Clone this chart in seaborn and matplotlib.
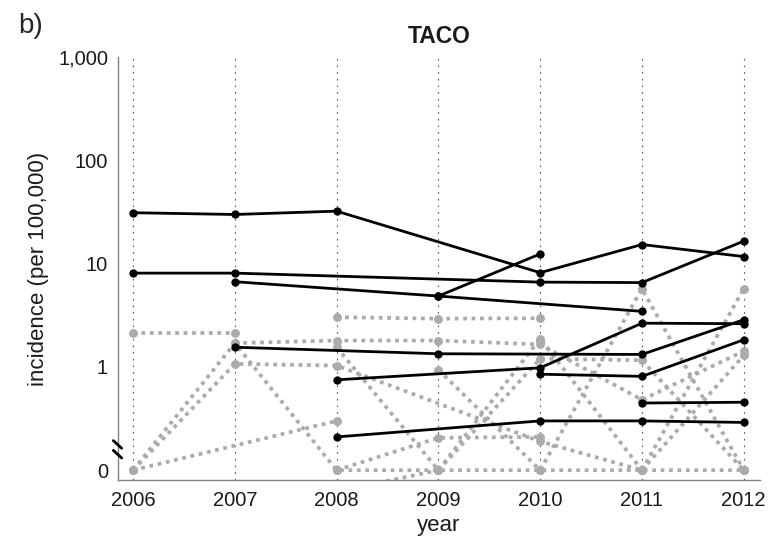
import numpy as np
import pandas as pd
import matplotlib
matplotlib.use("Agg")
import matplotlib.pyplot as plt
import matplotlib.ticker as mticker
import seaborn as sns

# Years on the x axis
YEARS = [2006, 2007, 2008, 2009, 2010, 2011, 2012]
nan = np.nan

# Black (solid) series, incidence per 100,000 (nan = no observation)
BLACK_SERIES = {
    "b1": [31.1, 29.9, 32.2, nan, 8.17, 15.3, 11.7],
    "b2": [8.09, 8.09, nan, nan, 6.62, 6.55, 16.5],
    "b3": [nan, 6.68, nan, 4.85, nan, 3.45, nan],
    "b4": [nan, nan, nan, 4.85, 12.4, nan, nan],
    "b5": [nan, 1.55, nan, 1.34, nan, 1.32, 2.86],
    "b6": [nan, nan, 0.75, nan, 0.98, 2.65, 2.62],
    "b7": [nan, nan, nan, nan, 0.85, 0.81, 1.83],
    "b8": [nan, nan, 0.21, nan, 0.30, 0.30, 0.29],
    "b9": [nan, nan, nan, nan, nan, 0.447, 0.455],
}

# Grey (dotted) series
GREY_SERIES = {
    "g1": [2.14, 2.14, nan, nan, nan, nan, nan],
    "g2": [0, 1.7, 0, 0, 0, 0, 0],
    "g3": [0, 1.07, 1.03, nan, 0.19, 0, nan],
    "g4": [0, nan, 0.30, nan, nan, nan, nan],
    "g5": [nan, 1.7, 1.8, 1.8, 1.65, 0.48, 1.42],
    "g6": [nan, nan, 3.03, 2.93, 2.96, nan, nan],
    "g7": [nan, nan, 1.55, 0, 1.88, 0, nan],
    "g8": [nan, nan, nan, 0.94, 0, 5.71, 0],
    "g9": [nan, nan, 0, 0.206, 0.21, nan, nan],
    "g10": [nan, nan, 0.062, 0, nan, nan, nan],
    "g11": [nan, nan, nan, 0, 1.2, 1.16, 0],
    "g12": [nan, nan, nan, nan, nan, 0, 5.71],
    "g13": [nan, nan, nan, nan, nan, 0, 1.29],
}

Y_TICKS = [0.1, 1, 10, 100, 1000]
Y_TICK_LABELS = ["0", "1", "10", "100", "1,000"]
ZERO_POS = 0.1  # where zero is drawn on the log axis

GREY = "#ababab"
AXIS_GREY = "#808080"
TEXT = "#1a1a1a"


def to_long(series_dict):
    """Turn a dict of series into a long table, dropping missing years."""
    rows = []
    for name, values in series_dict.items():
        for year, v in zip(YEARS, values):
            if not np.isnan(v):
                rows.append({"series": name, "year": year, "value": v,
                             "plot_value": ZERO_POS if v == 0 else v})
    return pd.DataFrame(rows)


sns.set_style("white")
plt.rcParams["font.family"] = ["Liberation Sans", "DejaVu Sans"]

fig = plt.figure(figsize=(7.7, 5.39), dpi=100)
ax = fig.add_axes([0.153, 0.1095, 0.834, 0.7847])

grey_df = to_long(GREY_SERIES)
black_df = to_long(BLACK_SERIES)

sns.lineplot(data=grey_df, x="year", y="plot_value", units="series",
             estimator=None, color=GREY, linestyle=(0, (1, 1.25)), lw=2.7,
             marker="o", markersize=6.4, markeredgewidth=0, ax=ax, zorder=2)
sns.lineplot(data=black_df, x="year", y="plot_value", units="series",
             estimator=None, color="black", lw=2.0,
             marker="o", markersize=6, markeredgewidth=0, ax=ax, zorder=3)

ax.set_yscale("log")
ax.set_ylim(0.0804, 1000)
ax.set_xlim(2005.85, 2012.16)
ax.set_yticks(Y_TICKS)
ax.set_yticklabels(Y_TICK_LABELS)
ax.yaxis.set_minor_locator(mticker.LogLocator(base=10, subs=np.arange(2, 10)))
ax.yaxis.set_minor_formatter(mticker.NullFormatter())
ax.set_xticks(YEARS)
ax.set_xticklabels([str(y) for y in YEARS])

ax.xaxis.grid(True, linestyle=(0, (1.5, 4.5)), color="#555555", lw=0.8)
ax.yaxis.grid(False)

for side in ["top", "right"]:
    ax.spines[side].set_visible(False)
for side in ["left", "bottom"]:
    ax.spines[side].set_color(AXIS_GREY)
    ax.spines[side].set_linewidth(1.0)

ax.tick_params(axis="both", which="major", direction="in", length=4,
               color=AXIS_GREY, labelsize=14.5, labelcolor=TEXT)
ax.tick_params(axis="x", which="major", pad=8)
ax.tick_params(axis="y", which="major", pad=7)
ax.tick_params(axis="y", which="minor", direction="in", length=2.5,
               color=AXIS_GREY)

ax.set_xlabel("year", fontsize=16, color=TEXT)
ax.set_ylabel("incidence (per 100,000)", fontsize=16, color=TEXT)
ax.xaxis.set_label_coords(0.5, -0.082)
ax.yaxis.set_label_coords(-0.107, 0.5)
ax.set_title("TACO", fontsize=16.5, fontweight="bold", pad=10, color=TEXT)

# axis break marks
for y0 in (0.093, 0.070):
    ax.plot([-0.007, 0.006], [y0, y0 - 0.018], transform=ax.transAxes,
            color="black", lw=2.0, clip_on=False, zorder=5)

fig.text(0.023, 0.939, "b)", fontsize=20, va="baseline", ha="left")

fig.savefig("out.png", dpi=100)
